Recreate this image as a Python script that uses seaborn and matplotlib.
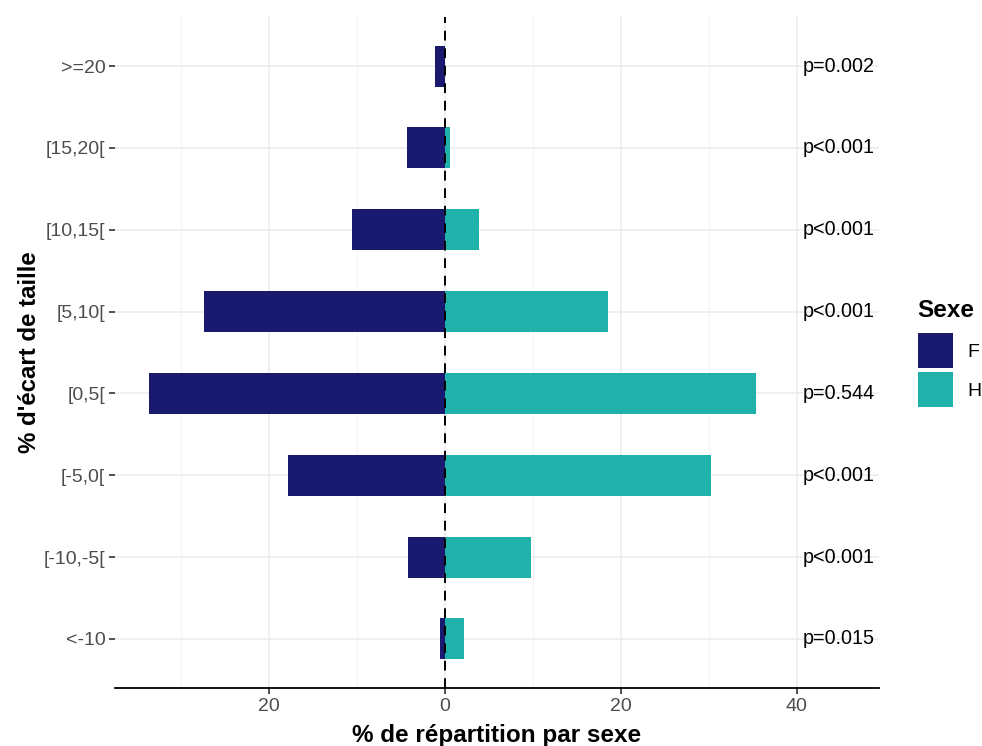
import matplotlib
matplotlib.use("Agg")
import matplotlib.pyplot as plt
from matplotlib.patches import Patch
import seaborn as sns
import pandas as pd

# Height-gap classes, top to bottom
categories = [">=20", "[15,20[", "[10,15[", "[5,10[", "[0,5[", "[-5,0[", "[-10,-5[", "<-10"]
# Share (%) of each sex in each class
pct_F = [1.1, 4.3, 10.6, 27.4, 33.6, 17.8, 4.2, 0.5]
pct_H = [0.0, 0.55, 3.9, 18.5, 35.4, 30.3, 9.8, 2.2]
# Test result per class
p_labels = ["p=0.002", "p<0.001", "p<0.001", "p<0.001", "p=0.544", "p<0.001", "p<0.001", "p=0.015"]
sexes = ["F", "H"]
colors = {"F": "#191970", "H": "#20B2AA"}

x_ticks = [-20, 0, 20, 40]
x_ticklabels = ["20", "0", "20", "40"]
x_minor = [-30, -10, 10, 30]

df = pd.DataFrame({
    "classe": categories * 2,
    "Sexe": ["F"] * len(categories) + ["H"] * len(categories),
    "pct": [-v for v in pct_F] + pct_H,
})

sns.set_theme(style="white")
plt.rcParams["font.family"] = ["Liberation Sans", "DejaVu Sans"]

fig = plt.figure(figsize=(9.82, 7.46), dpi=100)
ax = fig.add_axes([115 / 982, 58 / 746, (879 - 115) / 982, (688 - 17) / 746])

sns.barplot(data=df, y="classe", x="pct", hue="Sexe", order=categories,
            hue_order=sexes, palette=colors, dodge=False, width=0.5,
            errorbar=None, orient="h", saturation=1, legend=False, ax=ax,
            linewidth=0, zorder=3)

ax.set_xlim(-37.5, 49.35)
ax.set_ylim(len(categories) - 0.4, -0.6)

# grid
ax.set_xticks(x_ticks)
ax.set_xticklabels(x_ticklabels)
ax.set_xticks(x_minor, minor=True)
ax.grid(False)
for v in x_ticks:
    ax.axvline(v, color="#EBEBEB", lw=1.1, zorder=0)
for v in x_minor:
    ax.axvline(v, color="#F2F2F2", lw=0.6, zorder=0)
for i in range(len(categories)):
    ax.axhline(i, color="#EBEBEB", lw=1.1, zorder=0)

ax.axvline(0, color="black", lw=1.4, ls=(0, (5, 4)), zorder=4)

for i, lab in enumerate(p_labels):
    ax.text(44.8, i, lab, ha="center", va="center", fontsize=14.2, color="black")

for s in ["top", "right", "left"]:
    ax.spines[s].set_visible(False)
ax.spines["bottom"].set_color("black")
ax.spines["bottom"].set_linewidth(1.3)

ax.tick_params(axis="both", which="major", length=4, width=1.1, color="#222222",
               labelsize=14, labelcolor="#4D4D4D", pad=3)
ax.tick_params(axis="x", which="minor", length=0)
ax.tick_params(axis="y", left=True)
ax.tick_params(axis="x", bottom=True)

ax.set_xlabel("% de répartition par sexe", fontsize=17.5, fontweight="bold",
              labelpad=7, color="black")
ax.set_ylabel("% d'écart de taille", fontsize=17.3, fontweight="bold",
              labelpad=2, color="black")

# legend: title as its own text, keys below it
fig.text(917 / 982, 1 - 299 / 746, "Sexe", ha="left", va="top",
         fontsize=17.5, fontweight="bold", color="black")
handles = [Patch(facecolor=colors[s], edgecolor="none", label=s) for s in sexes]
leg = fig.legend(handles=handles, loc="upper left",
                 bbox_to_anchor=(918 / 982, 1 - 333 / 746), frameon=False,
                 fontsize=14, handlelength=1.8, handleheight=2.4,
                 labelspacing=0.2, handletextpad=0.75, borderpad=0, borderaxespad=0)
for t in leg.get_texts():
    t.set_color("black")

fig.savefig("out.png", dpi=100, facecolor="white")
